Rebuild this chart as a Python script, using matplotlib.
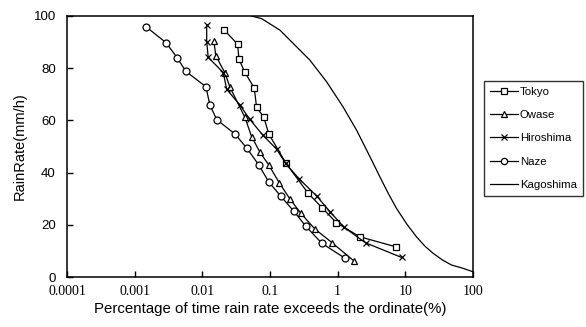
import matplotlib
matplotlib.use("Agg")
import matplotlib.pyplot as plt

# ---- data ----
tokyo_x = [0.0211, 0.0332, 0.0348, 0.0426, 0.0585, 0.0634, 0.081, 0.096, 0.172, 0.366, 0.59, 0.96, 2.13, 7.4]
tokyo_y = [94.6, 89.2, 83.4, 78.4, 72.4, 65.0, 61.2, 54.8, 43.6, 32.1, 26.5, 20.8, 15.4, 11.5]

owase_x = [0.0148, 0.0158, 0.0216, 0.0256, 0.0425, 0.0535, 0.071, 0.096, 0.137, 0.197, 0.286, 0.46, 0.83, 1.73]
owase_y = [90.4, 84.8, 78.2, 72.7, 61.2, 53.8, 47.8, 42.9, 36.1, 29.9, 24.4, 18.4, 13.1, 6.2]

hiro_x = [0.0116, 0.0116, 0.0122, 0.0204, 0.0229, 0.0359, 0.05, 0.078, 0.125, 0.17, 0.27, 0.49, 0.77, 1.25, 2.58, 8.8]
hiro_y = [96.6, 90.2, 84.2, 78.3, 71.9, 65.9, 60.5, 54.4, 49.0, 43.5, 37.6, 31.0, 25.0, 19.0, 13.1, 7.5]

naze_x = [0.00147, 0.0029, 0.00425, 0.0057, 0.0113, 0.0129, 0.0163, 0.0303, 0.045, 0.068, 0.096, 0.145, 0.225, 0.339, 0.585, 1.28]
naze_y = [95.9, 89.8, 84.0, 78.8, 72.9, 66.0, 60.3, 54.8, 49.5, 43.0, 36.4, 30.9, 25.2, 19.4, 12.9, 7.2]

kago_x = [0.053, 0.075, 0.14, 0.247, 0.388, 0.686, 1.2, 1.9, 2.67, 3.35, 4.2, 5.6, 7.4, 10.5, 14.6, 19.5, 25.7, 35.0, 48.0, 70.0, 100.0]
kago_y = [100.0, 99.0, 94.6, 88.2, 83.1, 74.8, 65.2, 56.3, 48.7, 43.6, 38.4, 32.0, 26.3, 20.3, 15.4, 11.8, 9.1, 6.6, 4.6, 3.4, 2.0]

xticks = [0.0001, 0.001, 0.01, 0.1, 1, 10, 100]
xtick_labels = ["0.0001", "0.001", "0.01", "0.1", "1", "10", "100"]
yticks = [0, 20, 40, 60, 80, 100]

# ---- figure ----
fig = plt.figure(figsize=(5.86, 3.27), dpi=100)
ax = fig.add_axes([67/586, 1-277/327, (473-67)/586, (277-16)/327])

lw = 0.9
ms = 5
common = dict(color="black", lw=lw, markerfacecolor="white", markeredgecolor="black",
              markeredgewidth=0.9, ms=ms)
ax.plot(tokyo_x, tokyo_y, marker="s", label="Tokyo", **common)
ax.plot(owase_x, owase_y, marker="^", label="Owase", **common)
ax.plot(hiro_x, hiro_y, marker="x", label="Hiroshima", **common)
ax.plot(naze_x, naze_y, marker="o", label="Naze", **common)
ax.plot(kago_x, kago_y, color="black", lw=lw, label="Kagoshima")

ax.set_xscale("log")
ax.set_xlim(0.0001, 100)
ax.set_ylim(0, 100)
ax.set_xticks(xticks)
ax.set_xticklabels(xtick_labels, fontfamily="Liberation Serif", fontsize=10)
ax.minorticks_off()
ax.set_yticks(yticks)
ax.set_yticklabels([str(v) for v in yticks], fontfamily="Liberation Sans", fontsize=9.5)
ax.tick_params(axis="both", direction="in", length=4, width=1.0)
ax.tick_params(axis="x", pad=6)
ax.tick_params(axis="y", pad=8)
for s in ax.spines.values():
    s.set_linewidth(1.1)

ax.set_xlabel("Percentage of time rain rate exceeds the ordinate(%)",
              fontfamily="Liberation Sans", fontsize=10.8, labelpad=3)
ax.set_ylabel("RainRate(mm/h)", fontfamily="Liberation Sans", fontsize=10.5, labelpad=5)

handles, labels = ax.get_legend_handles_labels()
leg = fig.legend(handles, labels, loc="upper left",
                 bbox_to_anchor=(484/586, 1-81/327), bbox_transform=fig.transFigure,
                 prop={"family": "Liberation Sans", "size": 8.2},
                 frameon=True, fancybox=False, edgecolor="black",
                 handlelength=2.4, handletextpad=0.2, labelspacing=1.15,
                 borderpad=0.55, borderaxespad=0, markerscale=0.9)
leg.get_frame().set_linewidth(1.0)

fig.savefig("out.png", dpi=100)
